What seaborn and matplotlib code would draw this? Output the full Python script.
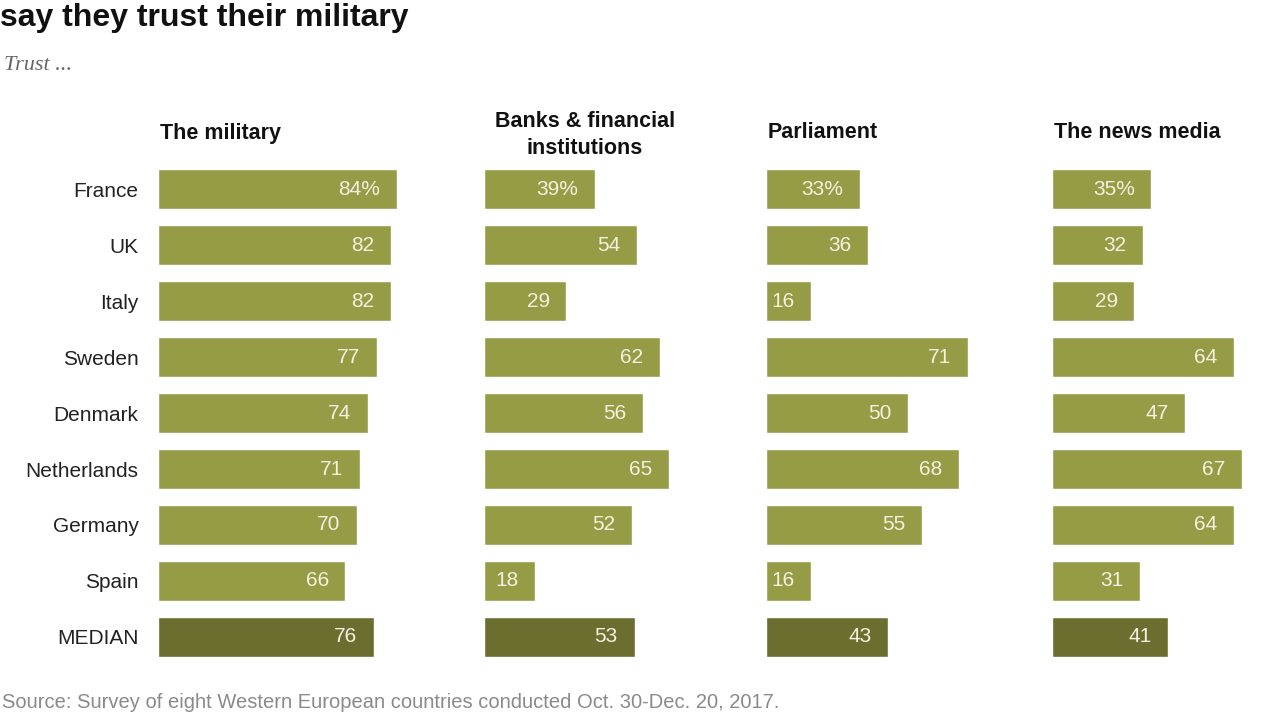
import matplotlib
matplotlib.use("Agg")
import matplotlib.pyplot as plt
import seaborn as sns
import pandas as pd

countries = ["France", "UK", "Italy", "Sweden", "Denmark", "Netherlands",
             "Germany", "Spain", "MEDIAN"]
military = [84, 82, 82, 77, 74, 71, 70, 66, 76]
banks = [39, 54, 29, 62, 56, 65, 52, 18, 53]
parliament = [33, 36, 16, 71, 50, 68, 55, 16, 43]
news_media = [35, 32, 29, 64, 47, 67, 64, 31, 41]
headers = ["The military", "Banks & financial\ninstitutions", "Parliament",
           "The news media"]

bar_col = "#969c45"
median_col = "#6b6e2e"
palette = [bar_col] * 8 + [median_col]

sns.set_style("white")
plt.rcParams['font.family'] = ['Liberation Sans', 'DejaVu Sans']

fig = plt.figure(figsize=(12.8, 7.2), dpi=100)

px_per_unit = 2.84
# left edge and pixel width of each panel
panels = [(158, 250), (484, 250), (766, 250), (1052, 210)]
series = [military, banks, parliament, news_media]

for k, ((left, width), vals) in enumerate(zip(panels, series)):
    ax = fig.add_axes([left / 1280, 1 - 665 / 720, width / 1280, 504 / 720])
    df = pd.DataFrame({"country": countries, "value": vals})
    sns.barplot(data=df, x="value", y="country", hue="country",
                palette=palette, legend=False, width=0.7, ax=ax,
                saturation=1)
    ax.set_xlim(0, width / px_per_unit)
    ax.set_ylim(8.5, -0.5)
    for i, v in enumerate(vals):
        lab = f"{v}%" if i == 0 else str(v)
        ax.annotate(lab, xy=(v, i), xytext=(-12, 0), textcoords="offset points",
                    ha="right", va="center", color="#f4f1e0", fontsize=15)
    ax.set_xlabel("")
    ax.set_ylabel("")
    ax.set_xticks([])
    sns.despine(ax=ax, left=True, bottom=True)
    if k == 0:
        ax.tick_params(axis="y", length=0, pad=14, labelsize=15,
                       labelcolor="#222222")
    else:
        ax.set_yticks([])
    # column header
    if "\n" in headers[k]:
        fig.text((left + 101) / 1280, 1 - 135 / 720, headers[k], ha="center",
                 va="center", fontsize=15.5, fontweight="bold", linespacing=1.4,
                 color="#111111")
    else:
        fig.text((left + 2) / 1280, 1 - 133 / 720, headers[k], ha="left",
                 va="center", fontsize=15.5, fontweight="bold", color="#111111")

fig.text(0.0, 1 - 18 / 720, "say they trust their military", ha="left",
         va="center", fontsize=23, fontweight="bold", color="#111111")
fig.text(4 / 1280, 1 - 65 / 720, "Trust ...", ha="left", va="center",
         fontsize=16, style="italic", family="Liberation Serif",
         color="#666666")
fig.text(2 / 1280, 1 - 703 / 720,
         "Source: Survey of eight Western European countries conducted Oct. 30-Dec. 20, 2017.",
         ha="left", va="center", fontsize=14.5, color="#8a8a8a")

fig.savefig("out.png", dpi=100)
